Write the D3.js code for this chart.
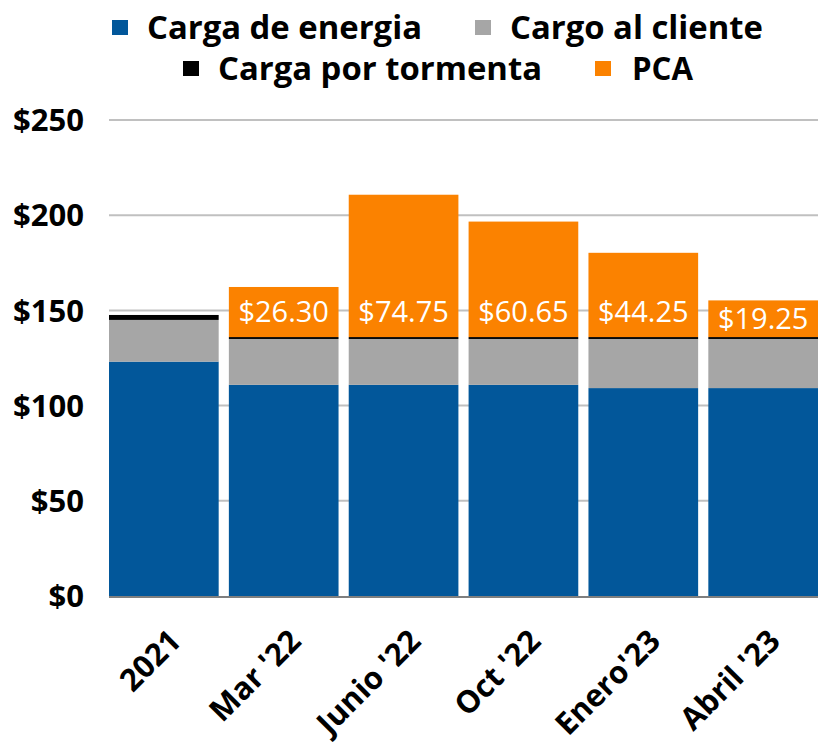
<!DOCTYPE html>
<html>
<head>
<meta charset="utf-8">
<script src="https://cdn.jsdelivr.net/npm/d3@7"></script>
<style>
  body { margin: 0; background: #fff; }
  svg text { font-family: "Open Sans", sans-serif; }
</style>
</head>
<body>
<svg id="chart" width="819" height="743"></svg>
<script>
// chart values
var periods = ['2021', "Mar '22", "Junio '22", "Oct '22", "Enero'23", "Abril '23"];
var energia = [123.1, 110.9, 110.9, 110.9, 109.2, 109.2];
var cliente = [21.9, 24.1, 24.1, 24.1, 25.8, 25.8];
var tormenta = [2.6, 1.0, 1.0, 1.0, 1.0, 1.0];
var pca = [0, 26.30, 74.75, 60.65, 44.25, 19.25];
var pcaLabels = ['', '$26.30', '$74.75', '$60.65', '$44.25', '$19.25'];
var yTicks = [0, 50, 100, 150, 200, 250];

var seriesNames = ['Carga de energia', 'Cargo al cliente', 'Carga por tormenta', 'PCA'];
var seriesColors = ['#02579a', '#a6a6a6', '#000000', '#fb8200'];

var svg = d3.select('#chart');
var plotLeft = 109, plotRight = 818, plotTop = 120, plotBottom = 596;

var x = d3.scaleBand().domain(periods).range([plotLeft, plotRight]).paddingInner(0.085).paddingOuter(0);
var y = d3.scaleLinear().domain([0, 250]).range([plotBottom, plotTop]);

var rows = periods.map(function(p, i){
    return {period: p, energia: energia[i], cliente: cliente[i], tormenta: tormenta[i], pca: pca[i], label: pcaLabels[i]};
});
var keys = ['energia', 'cliente', 'tormenta', 'pca'];
var stacked = d3.stack().keys(keys)(rows);

// gridlines
svg.append('g').selectAll('line')
    .data(yTicks.filter(function(d){ return d > 0; }))
    .enter().append('line')
    .attr('x1', plotLeft).attr('x2', plotRight)
    .attr('y1', function(d){ return y(d); })
    .attr('y2', function(d){ return y(d); })
    .attr('stroke', '#c0c0c0')
    .attr('stroke-width', 2);

// bars
svg.append('g').selectAll('g')
    .data(stacked)
    .enter().append('g')
    .attr('fill', function(d, i){ return seriesColors[i]; })
    .selectAll('rect')
    .data(function(d){ return d; })
    .enter().append('rect')
    .attr('x', function(d){ return x(d.data.period); })
    .attr('width', x.bandwidth())
    .attr('y', function(d){ return y(d[1]); })
    .attr('height', function(d){ return y(d[0]) - y(d[1]); });

// baseline
svg.append('line')
    .attr('x1', plotLeft).attr('x2', plotRight)
    .attr('y1', plotBottom + 1).attr('y2', plotBottom + 1)
    .attr('stroke', '#7f7f7f')
    .attr('stroke-width', 2);

// PCA labels
var pcaLayer = stacked[3];
svg.append('g').selectAll('text')
    .data(pcaLayer.filter(function(d){ return d.data.pca > 0; }))
    .enter().append('text')
    .attr('x', function(d){ return x(d.data.period) + x.bandwidth()/2; })
    .attr('y', function(d){
        var base = y(d[0]);
        var mid = (y(d[0]) + y(d[1])) / 2;
        return Math.max(mid, base - 25);
    })
    .attr('dy', '0.36em')
    .attr('text-anchor', 'middle')
    .attr('fill', '#fff')
    .style('font-size', '29px')
    .text(function(d){ return d.data.label; });

// y axis labels
svg.append('g').selectAll('text')
    .data(yTicks)
    .enter().append('text')
    .attr('x', 84)
    .attr('y', function(d){ return y(d); })
    .attr('dy', '0.36em')
    .attr('text-anchor', 'end')
    .style('font-size', '31px')
    .style('font-weight', 700)
    .text(function(d){ return '$' + d; });

// x axis labels
svg.append('g').selectAll('text')
    .data(periods)
    .enter().append('text')
    .attr('transform', function(d){
        return 'translate(' + (x(d) + x.bandwidth()/2 + 19) + ',' + 643 + ') rotate(-45)';
    })
    .attr('text-anchor', 'end')
    .style('font-size', '31px')
    .style('font-weight', 700)
    .text(function(d){ return d; });

// legend
var legendItems = [
    {name: seriesNames[0], color: seriesColors[0], sx: 112, tx: 147, ty: 39, w: 275},
    {name: seriesNames[1], color: seriesColors[1], sx: 475, tx: 510, ty: 39, w: 253},
    {name: seriesNames[2], color: seriesColors[2], sx: 183, tx: 218, ty: 80, w: 324},
    {name: seriesNames[3], color: seriesColors[3], sx: 595, tx: 632, ty: 80, w: 61}
];
var legend = svg.append('g');
legend.selectAll('rect')
    .data(legendItems)
    .enter().append('rect')
    .attr('x', function(d){ return d.sx; })
    .attr('y', function(d){ return d.ty - 19; })
    .attr('width', 16).attr('height', 15)
    .attr('fill', function(d){ return d.color; });
legend.selectAll('text')
    .data(legendItems)
    .enter().append('text')
    .attr('x', function(d){ return d.tx; })
    .attr('y', function(d){ return d.ty; })
    .attr('textLength', function(d){ return d.w; })
    .attr('lengthAdjust', 'spacingAndGlyphs')
    .style('font-size', '33px')
    .style('font-weight', 700)
    .text(function(d){ return d.name; });
</script>
</body>
</html>
